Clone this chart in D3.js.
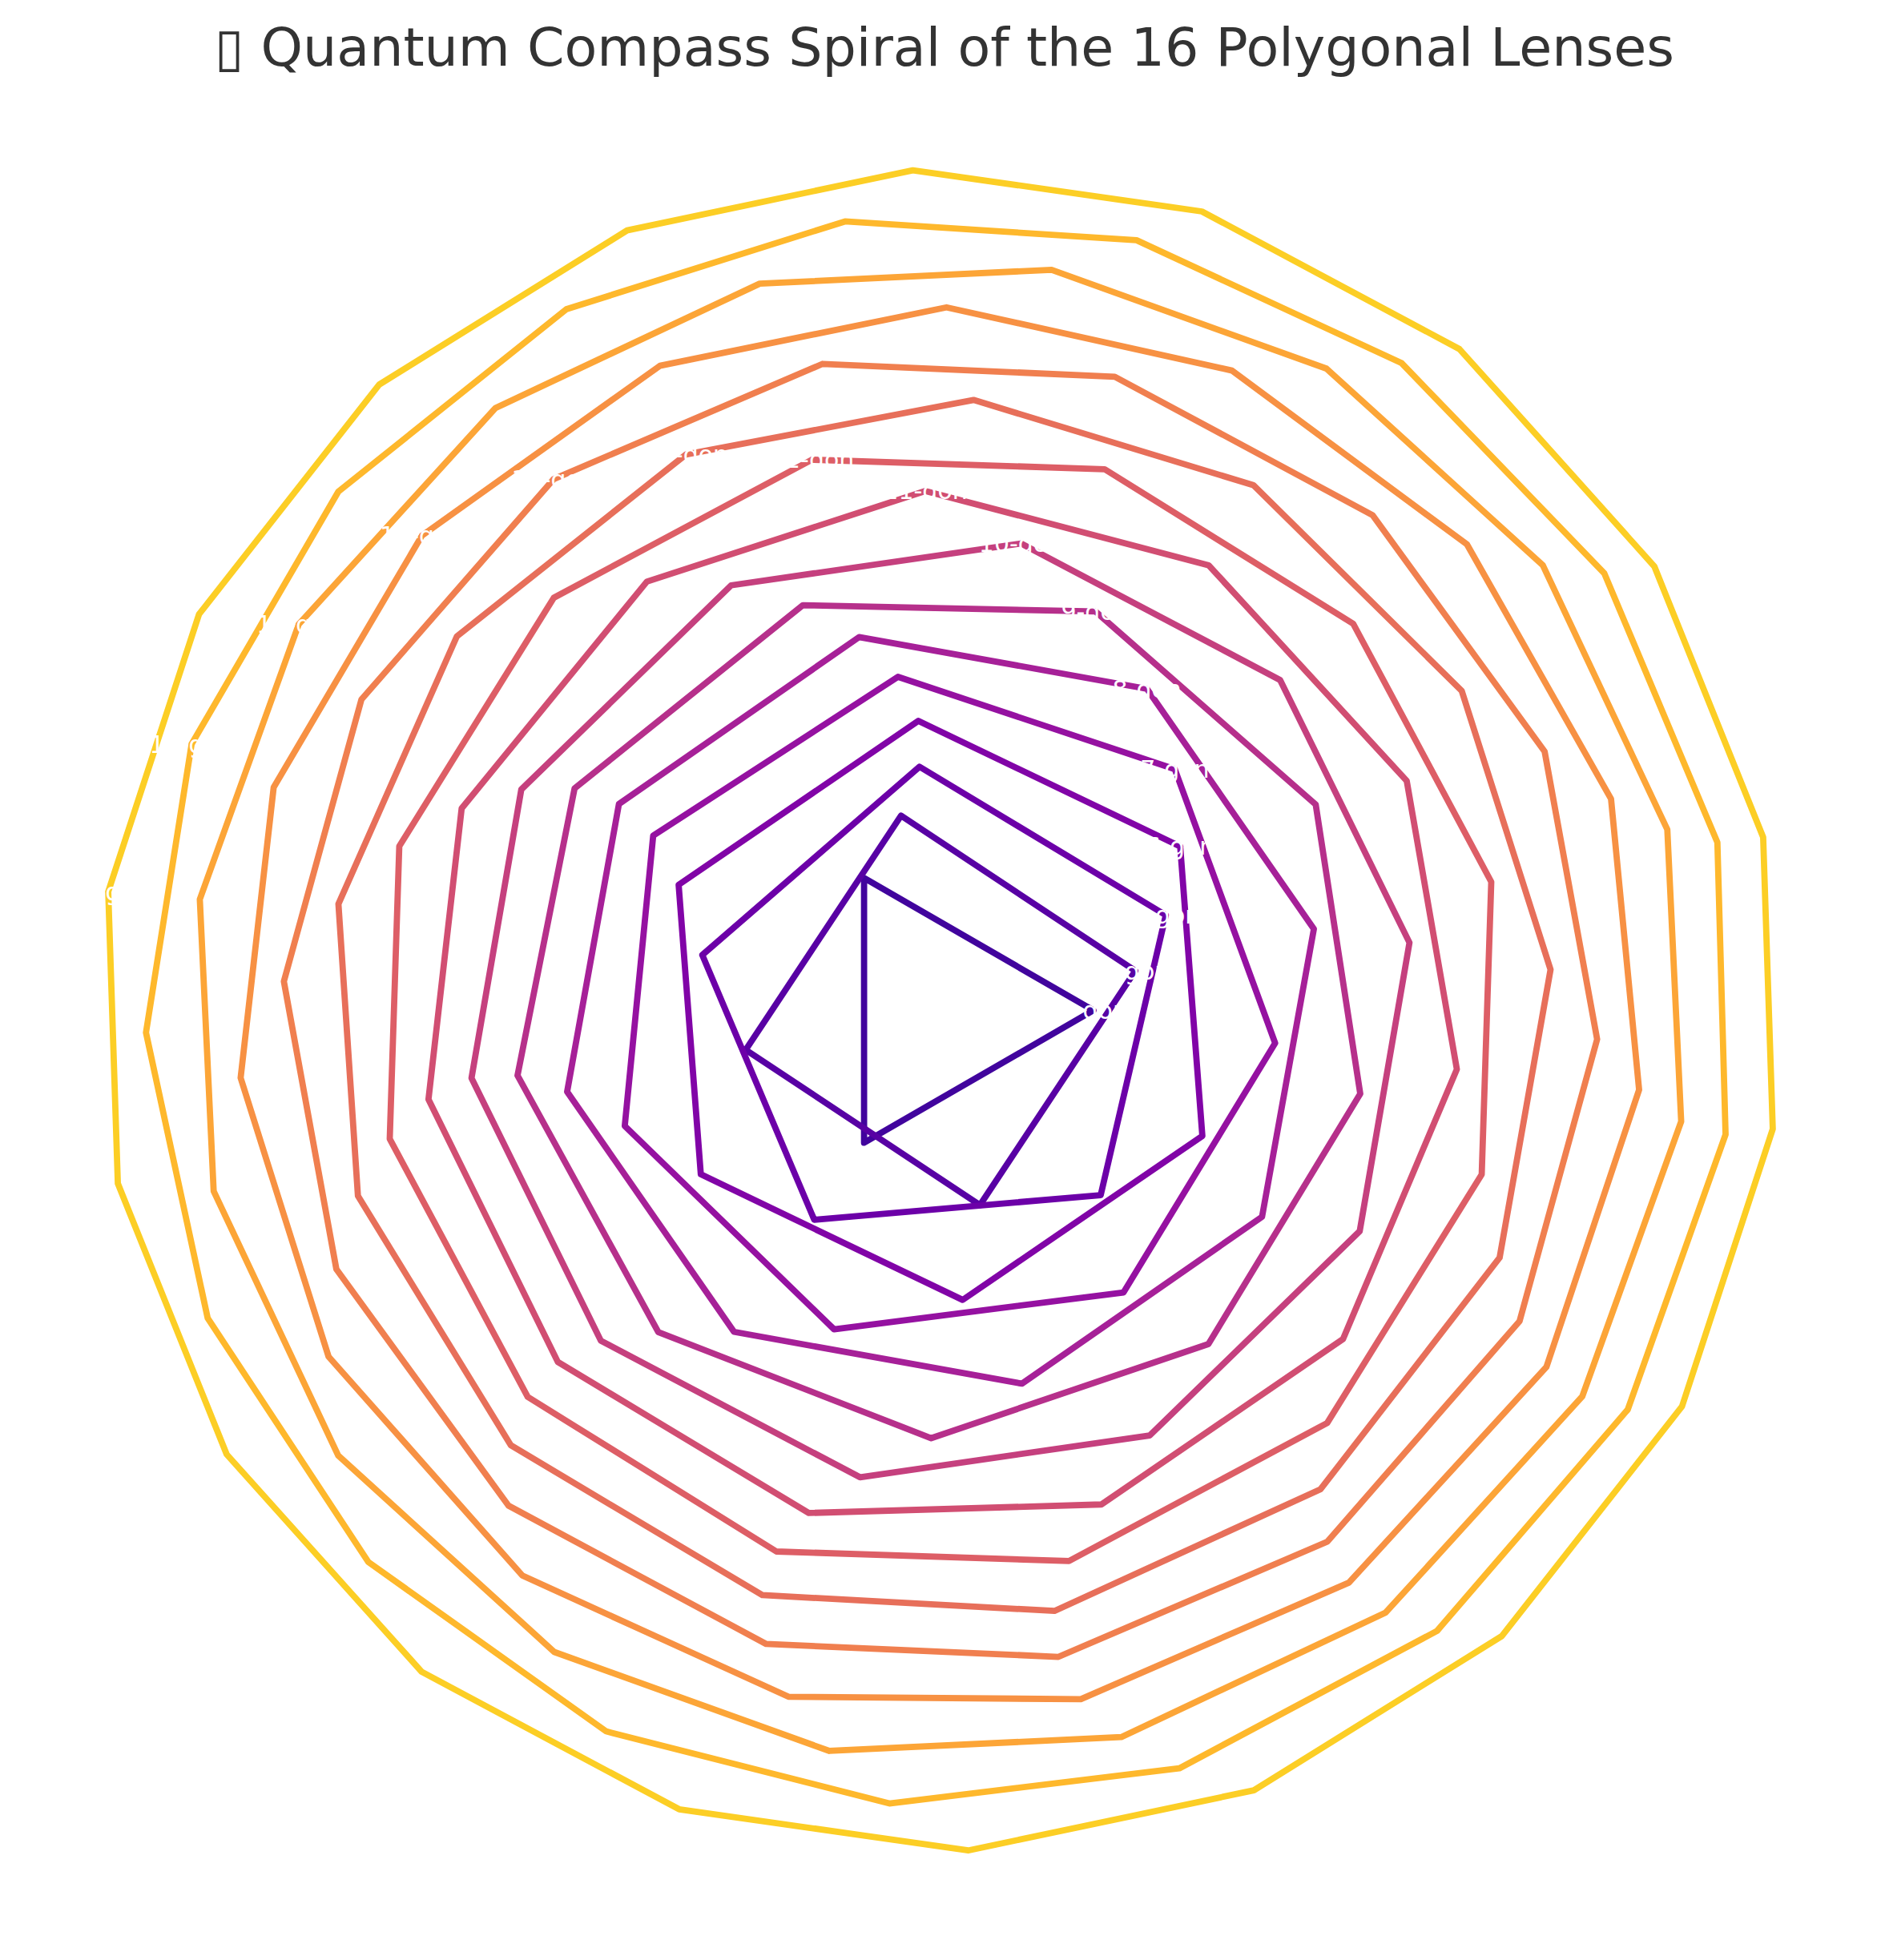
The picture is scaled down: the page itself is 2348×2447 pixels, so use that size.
<!DOCTYPE html>
<html>
<head>
<meta charset="utf-8">
<script src="https://cdn.jsdelivr.net/npm/d3@7"></script>
<style>
  body { margin: 0; background: #ffffff; }
  svg { display: block; }
</style>
</head>
<body>
<svg id="chart" width="2348" height="2447"></svg>
<script>
// polygon data
const sides     = [3, 4, 5, 6, 7, 8, 9, 10, 11, 12, 13, 14, 15, 16, 17, 18];
const radii     = [1.0, 1.3, 1.6, 1.9, 2.2, 2.5, 2.8, 3.1, 3.4, 3.7, 4.0, 4.3, 4.6, 4.9, 5.2, 5.5];
const rotations = [0.0, 0.2, 0.4, 0.6, 0.8, 1.0, 1.2, 1.4, 1.6, 1.8, 2.0, 2.2, 2.4, 2.6, 2.8, 3.0]; // radians
const labels    = ["3-gon", "4-gon", "5-gon", "6-gon", "7-gon", "8-gon", "9-gon", "10-gon",
                   "11-gon", "12-gon", "13-gon", "14-gon", "15-gon", "16-gon", "17-gon", "18-gon"];
// the leading emoji shows as an empty glyph box in the reference
const title = "\u25AF Quantum Compass Spiral of the 16 Polygonal Lenses";

const width = 2348, height = 2447;
const cx = 1174, cy = 1261.4, unit = 190.8;

const xScale = d3.scaleLinear().domain([-6, 6]).range([cx - 6 * unit, cx + 6 * unit]);
const yScale = d3.scaleLinear().domain([-6, 6]).range([cy + 6 * unit, cy - 6 * unit]);

// plasma, trimmed at both ends
const color = d3.scaleLinear().domain([0, sides.length - 1]).range([0.1, 0.9]);

const svg = d3.select("#chart");

svg.append("rect").attr("width", width).attr("height", height).attr("fill", "#ffffff");

function vertices(i) {
  const n = sides[i], r = radii[i], rot = rotations[i];
  return d3.range(n + 1).map(k => {
    const a = rot + 2 * Math.PI * (k % n) / n;
    return [r * Math.cos(a), r * Math.sin(a)];
  });
}

const line = d3.line().x(d => xScale(d[0])).y(d => yScale(d[1]));

svg.append("g").attr("class", "polygons")
  .selectAll("path")
  .data(sides.map((n, i) => i))
  .enter().append("path")
  .attr("d", i => line(vertices(i)))
  .attr("fill", "none")
  .attr("stroke", i => d3.interpolatePlasma(color(i)))
  .attr("stroke-width", 7.8)
  .attr("stroke-linejoin", "round")
  .attr("stroke-linecap", "round");

svg.append("g").attr("class", "labels")
  .selectAll("text")
  .data(sides.map((n, i) => i))
  .enter().append("text")
  .attr("x", i => xScale(radii[i] * Math.cos(rotations[i])))
  .attr("y", i => yScale(radii[i] * Math.sin(rotations[i])))
  .attr("text-anchor", "middle")
  .attr("dominant-baseline", "central")
  .style("font-family", "'DejaVu Sans', sans-serif")
  .style("font-size", "30px")
  .style("fill", "#ffffff")
  .text(i => labels[i]);

svg.append("text")
  .attr("x", 2090)
  .attr("y", 82)
  .attr("text-anchor", "end")
  .style("font-family", "'DejaVu Sans', sans-serif")
  .style("font-size", "66.7px")
  .style("fill", "#333333")
  .text(title);
</script>
</body>
</html>
